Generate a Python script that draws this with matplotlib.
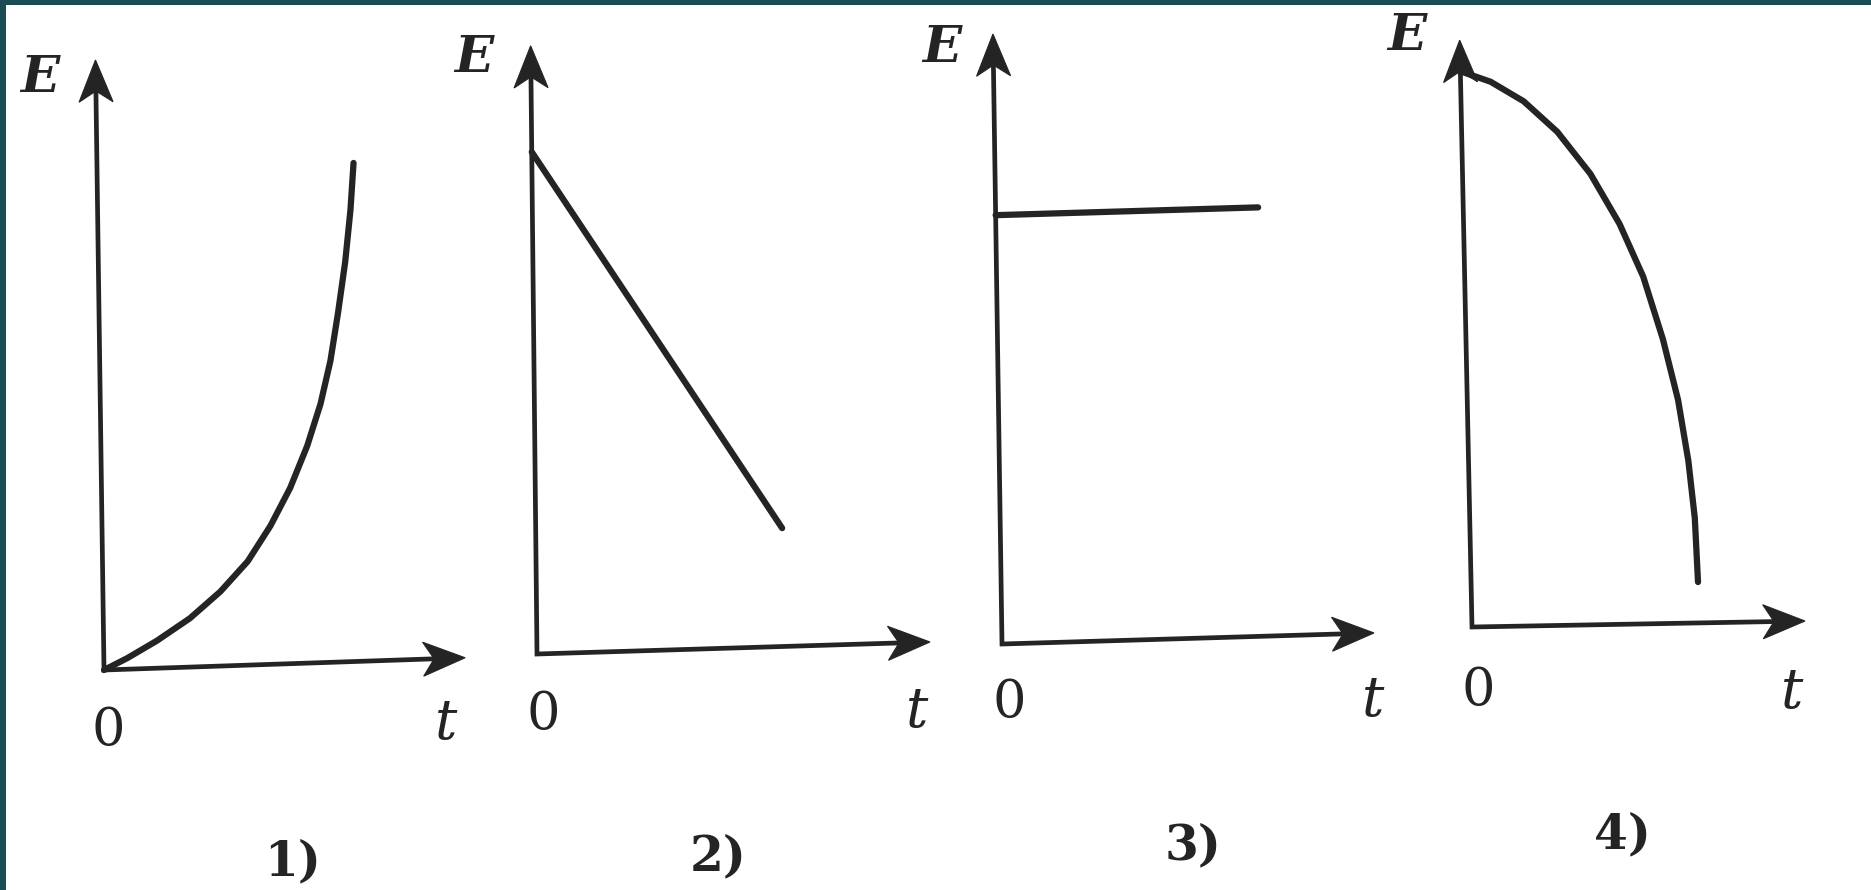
import numpy as np
import matplotlib
matplotlib.use("Agg")
import matplotlib.pyplot as plt
from matplotlib.patches import Polygon, Rectangle
from matplotlib.transforms import Affine2D, IdentityTransform

W, H, DPI = 1871, 890, 100
T_PX, E_PX = 37.5, 61.0          # pixels per unit of t and of E
INK = "#242424"
FRAME = "#1b4b55"
FONT = "DejaVu Serif"

# --- graph data (t, E) ---
t1 = [0, 0.62, 1.42, 2.31, 3.13, 3.87, 4.49, 5.03, 5.50, 5.87, 6.15, 6.37, 6.58, 6.74, 6.84]
E1 = [0, 0.18, 0.45, 0.80, 1.22, 1.70, 2.27, 2.88, 3.56, 4.24, 4.94, 5.72, 6.55, 7.40, 8.17]

t2 = [0, 6.57]
E2 = [8.23, 1.94]

t3 = [0, 7.0]
E3 = [7.03, 7.03]

t4 = [0, 0.80, 1.67, 2.55, 3.41, 4.16, 4.76, 5.25, 5.62, 5.86, 6.00, 6.05]
E4 = [9.11, 8.93, 8.60, 8.09, 7.39, 6.56, 5.69, 4.66, 3.66, 2.66, 1.72, 0.67]

series = [(t1, E1), (t2, E2), (t3, E3), (t4, E4)]
captions = ["1)", "2)", "3)", "4)"]

# --- layout: origin in pixels (from top-left), axis lengths, scan skew ---
origins = [(104, 670), (537, 654), (1002, 644), (1472, 627)]
t_tips = [9.63, 10.48, 9.92, 8.88]
E_tips = [10.0, 9.97, 10.0, 9.62]
leans = [0.8, 0.6, 0.85, 1.2]       # y axis leans left (deg)
rises = [1.94, 1.75, 1.7, 1.03]     # x axis climbs right (deg)

lbl_E = [(40, 78), (474, 58), (942, 48), (1407, 36)]
lbl_0 = [(108, 730), (543, 714), (1009, 703), (1478, 690)]
lbl_t = [(446, 724), (917, 712), (1373, 701), (1792, 693)]
lbl_cap = [(293, 862), (718, 857), (1193, 846), (1622, 835)]


def fpos(p):
    return p[0] / W, 1 - p[1] / H


def arrow_head(ax, tr, p_from, p_to, length=42, half=17, notch=11):
    a = np.array(tr.transform(p_from))
    b = np.array(tr.transform(p_to))
    d = (b - a) / np.hypot(*(b - a))
    n = np.array([-d[1], d[0]])
    base = b - d * length
    verts = [b, base + n * half, b - d * (length - notch), base - n * half]
    ax.add_patch(Polygon(verts, closed=True, transform=IdentityTransform(),
                         facecolor=INK, edgecolor=INK, lw=0.8, clip_on=False))


fig = plt.figure(figsize=(W / DPI, H / DPI), dpi=DPI)
fig.patch.set_facecolor("white")

for i, (t, E) in enumerate(series):
    ox, oy = origins[i]
    tt, et = t_tips[i], E_tips[i]
    ax = fig.add_axes([ox / W, 1 - oy / H, tt * T_PX / W, et * E_PX / H])
    ax.set_xlim(0, tt)
    ax.set_ylim(0, et)
    ax.axis("off")

    od = (ox, H - oy)
    skew = (Affine2D().translate(-od[0], -od[1])
            .skew_deg(-leans[i], rises[i]).translate(od[0], od[1]))
    tr = ax.transData + skew

    # axes as one polyline so the corner is clean
    ax.plot([0, 0, tt - 20 / T_PX], [et - 20 / E_PX, 0, 0], color=INK, lw=3.4,
            solid_joinstyle="miter", solid_capstyle="butt", transform=tr, clip_on=False)
    arrow_head(ax, tr, (0, 0), (0, et))
    arrow_head(ax, tr, (0, 0), (tt, 0))

    ax.plot(t, E, color=INK, lw=4.5, solid_capstyle="round",
            solid_joinstyle="round", transform=tr, clip_on=False)

    fig.text(*fpos(lbl_E[i]), "E", ha="center", va="center", fontsize=37,
             family=FONT, style="italic", weight="bold", color=INK)
    fig.text(*fpos(lbl_0[i]), "0", ha="center", va="center", fontsize=38,
             family=FONT, color=INK)
    fig.text(*fpos(lbl_t[i]), "t", ha="center", va="center", fontsize=40,
             family=FONT, style="italic", color=INK)
    fig.text(*fpos(lbl_cap[i]), captions[i], ha="center", va="center", fontsize=35,
             family=FONT, weight="bold", color=INK)

# dark frame strips along the left and top edges
fig.add_artist(Rectangle((0, 0), 6 / W, 1, transform=fig.transFigure,
                         facecolor=FRAME, edgecolor="none"))
fig.add_artist(Rectangle((0, 1 - 5 / H), 1, 5 / H, transform=fig.transFigure,
                         facecolor=FRAME, edgecolor="none"))

fig.savefig("out.png", dpi=DPI, facecolor=fig.get_facecolor())
